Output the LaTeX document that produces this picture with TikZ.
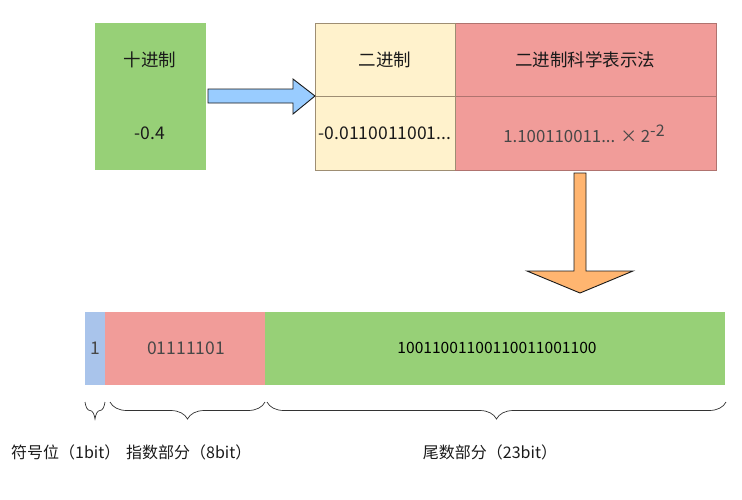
\documentclass[tikz,border=0pt]{standalone}
\usepackage{fontspec}
\setmainfont{Noto Sans CJK SC}
\usetikzlibrary{decorations.pathreplacing,calc}
\definecolor{cgreen}{HTML}{97D077}
\definecolor{cyellow}{HTML}{FFF2CC}
\definecolor{cred}{HTML}{F19C99}
\definecolor{cblue}{HTML}{A9C4EB}
\definecolor{carrowblue}{HTML}{99CCFF}
\definecolor{corange}{HTML}{FFB570}
\definecolor{cytext}{HTML}{9E8E73}
\definecolor{credline}{HTML}{B0736F}
\definecolor{ctext}{HTML}{1A1A1A}
\begin{document}
\begin{tikzpicture}[x=1pt,y=-1pt,
  cell/.style={inner sep=0pt, outer sep=0pt, line width=0.8pt},
  lbl/.style={inner sep=0pt, text=ctext, font=\fontsize{17.5pt}{20pt}\selectfont},
  blbl/.style={inner sep=0pt, text=ctext, font=\fontsize{16pt}{18pt}\selectfont},
  brc/.style={decorate, decoration={brace, mirror, amplitude=17pt}, draw=black!80, line width=0.7pt},
  blockarrow/.style={draw=black!90, line width=0.9pt}]
\useasboundingbox (0,0) rectangle (742,499);
% decimal box
\node[cell, fill=cgreen, minimum width=111pt, minimum height=147pt] (dec) at (150.5,96.5) {};
\node[lbl] (dect) at (150,60) {十进制};
\node[lbl] (decv) at (150,133) {-0.4};
% table
\node[cell, fill=cyellow, draw=cytext, minimum width=140pt, minimum height=73pt] (bin1) at (385,59.5) {};
\node[cell, fill=cyellow, draw=cytext, minimum width=140pt, minimum height=74pt] (bin2) at (385,133) {};
\node[cell, fill=cred, draw=credline, minimum width=261pt, minimum height=73pt] (sci1) at (585.5,59.5) {};
\node[cell, fill=cred, draw=credline, minimum width=261pt, minimum height=74pt] (sci2) at (585.5,133) {};
\draw[cytext, line width=0.8pt] (bin1.north east) -- (bin2.south east);
\node[lbl] (bin1t) at (385,60) {二进制};
\node[lbl] (bin2t) at (385,133) {-0.0110011001...};
\node[lbl] (sci1t) at (585,60) {二进制科学表示法};
\node[lbl, text=black!72, font=\fontsize{16.8pt}{19pt}\selectfont] (sci2t) at (584,134) {1.100110011... × 2\raisebox{0.6ex}{\fontsize{16pt}{17pt}\selectfont -2}};
% blue arrow
\draw[blockarrow, fill=carrowblue] (208,89) -- (293,89) -- (293,79) -- (315,96) -- (293,114) -- (293,103) -- (208,103) -- cycle;
% orange arrow
\draw[blockarrow, fill=corange] (574,173) -- (586,173) -- (586,271) -- (633,271) -- (580,293) -- (527,271) -- (574,271) -- cycle;
% bottom bar
\node[cell, fill=cblue, minimum width=20pt, minimum height=73pt] (sign) at (95,348.5) {};
\node[cell, fill=cred, minimum width=160pt, minimum height=73pt] (expo) at (185,348.5) {};
\node[cell, fill=cgreen, minimum width=460pt, minimum height=73pt] (mant) at (495,348.5) {};
\node[lbl, text=black!72] (signt) at (95,348) {1};
\node[lbl, text=black!72] (expot) at (186,348) {01111101};
\node[lbl, text=black, font=\fontsize{15.6pt}{18pt}\selectfont] (mantt) at (497,348) {10011001100110011001100};
% braces
\draw[brc] ($(sign.south west)+(0,17)$) -- ($(sign.south east)+(0,17)$);
\draw[brc] ($(expo.south west)+(5,17)$) -- ($(expo.south east)+(0,17)$);
\draw[brc] ($(mant.south west)+(2,17)$) -- ($(mant.south east)+(1,17)$);
% labels
\node[blbl, anchor=west] (signl) at (11,452) {符号位（1bit）};
\node[blbl, anchor=west] (expol) at (126,452) {指数部分（8bit）};
\node[blbl] (mantl) at (490,452) {尾数部分（23bit）};
\end{tikzpicture}
\end{document}
